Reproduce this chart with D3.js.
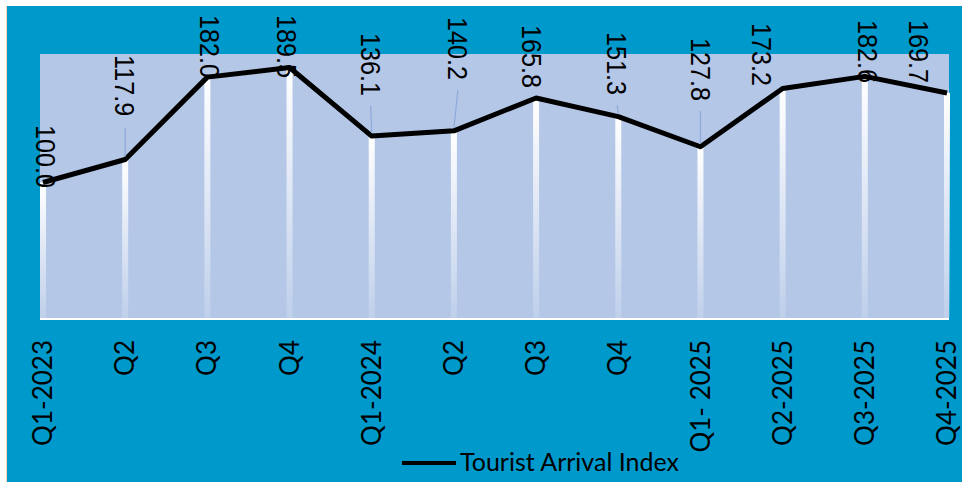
<!DOCTYPE html>
<html>
<head>
<meta charset="utf-8">
<script src="https://cdn.jsdelivr.net/npm/d3@7"></script>
<style>
  body { margin:0; background:#fff; }
  svg { display:block; }
</style>
</head>
<body>
<div id="chart"></div>
<script>
// data
let quarters = ['Q1-2023','Q2','Q3','Q4','Q1-2024','Q2','Q3','Q4','Q1- 2025','Q2-2025','Q3-2025','Q4-2025'];
let arrivals = [100.0,117.9,182.0,189.5,136.1,140.2,165.8,151.3,127.8,173.2,182.6,169.7];
let seriesName = 'Tourist Arrival Index';

// label layout (hand placed in the original)
let labelTop = [125,55,15,15,33,17,25,32,38,23,20,20];
let labelDx  = [3,0,2,-3,-1,4,-4,-1,0,-21,3,-28];
let hasLeader = [false,true,false,false,true,true,false,true,true,false,false,false];

let W = 962, H = 482;
let plot = {left:40, right:949, top:54, bottom:318};

let svg = d3.select('#chart')
  .append('svg')
    .attr('width',W)
    .attr('height',H);

// frame
svg.append('rect')
  .attr('x',7).attr('y',6)
  .attr('width',W-7).attr('height',H-6)
  .attr('fill','#0099cc');
svg.append('line')
  .attr('x1',6.5).attr('x2',6.5).attr('y1',6).attr('y2',H)
  .attr('stroke','#f3d2b0');

// plot area
svg.append('rect')
  .attr('x',plot.left).attr('y',plot.top)
  .attr('width',plot.right-plot.left).attr('height',plot.bottom-plot.top)
  .attr('fill','#b4c7e7');

let defs = svg.append('defs');
let grad = defs.append('linearGradient')
  .attr('id','drop')
  .attr('x1',0).attr('x2',0).attr('y1',0).attr('y2',1);
grad.append('stop').attr('offset','0%').attr('stop-color','#fff').attr('stop-opacity',1);
grad.append('stop').attr('offset','100%').attr('stop-color','#fff').attr('stop-opacity',0.15);

let x = d3.scalePoint()
  .domain(d3.range(quarters.length))
  .range([43,947]);

let y = d3.scaleLinear()
  .domain([0,200])
  .range([311,54]);

// drop bars
svg.selectAll('.drop').data(arrivals).enter()
  .append('rect')
    .attr('class','drop')
    .attr('x',(d,i)=>x(i)-3)
    .attr('y',d=>y(d))
    .attr('width',6)
    .attr('height',d=>plot.bottom-y(d))
    .attr('fill','url(#drop)');

// axis line
svg.append('line')
  .attr('x1',plot.left).attr('x2',plot.right)
  .attr('y1',plot.bottom+1).attr('y2',plot.bottom+1)
  .attr('stroke','#fff')
  .attr('stroke-width',2);

// line
let line = d3.line()
  .x((d,i)=>x(i))
  .y(d=>y(d));

svg.append('path')
  .datum(arrivals)
  .attr('d',line)
  .attr('fill','none')
  .attr('stroke','#000')
  .attr('stroke-width',5)
  .attr('stroke-linejoin','round');

// leader lines
let leaders = d3.range(arrivals.length).filter(i=>hasLeader[i]);
svg.selectAll('.leader').data(leaders).enter()
  .append('line')
    .attr('class','leader')
    .attr('x1',i=>x(i)+labelDx[i])
    .attr('y1',i=>labelTop[i]+63+10)
    .attr('x2',i=>x(i))
    .attr('y2',i=>y(arrivals[i])-3)
    .attr('stroke','#8eaadb')
    .attr('stroke-width',1.2);

// value labels
svg.selectAll('.val').data(arrivals).enter()
  .append('text')
    .attr('class','val')
    .attr('transform',(d,i)=>'translate('+(x(i)+labelDx[i])+','+labelTop[i]+') rotate(90) scale(0.9,1)')
    .attr('dy','0.35em')
    .attr('font-family','Liberation Sans, Arial, sans-serif')
    .attr('font-size',28)
    .attr('fill','#000')
    .text(d=>d.toFixed(1));

// category labels
svg.selectAll('.cat').data(quarters).enter()
  .append('text')
    .attr('class','cat')
    .attr('transform',(d,i)=>'translate('+x(i)+',340) rotate(-90)')
    .attr('dy','0.35em')
    .attr('text-anchor','end')
    .attr('font-family','Lato, sans-serif')
    .attr('font-size',26)
    .attr('fill','#000')
    .text(d=>d);

// legend
svg.append('line')
  .attr('x1',402).attr('x2',456)
  .attr('y1',463).attr('y2',463)
  .attr('stroke','#000')
  .attr('stroke-width',4);
svg.append('text')
  .attr('x',460)
  .attr('y',471)
  .attr('font-family','Lato, sans-serif')
  .attr('font-size',25)
  .attr('fill','#000')
  .text(seriesName);
</script>
</body>
</html>
